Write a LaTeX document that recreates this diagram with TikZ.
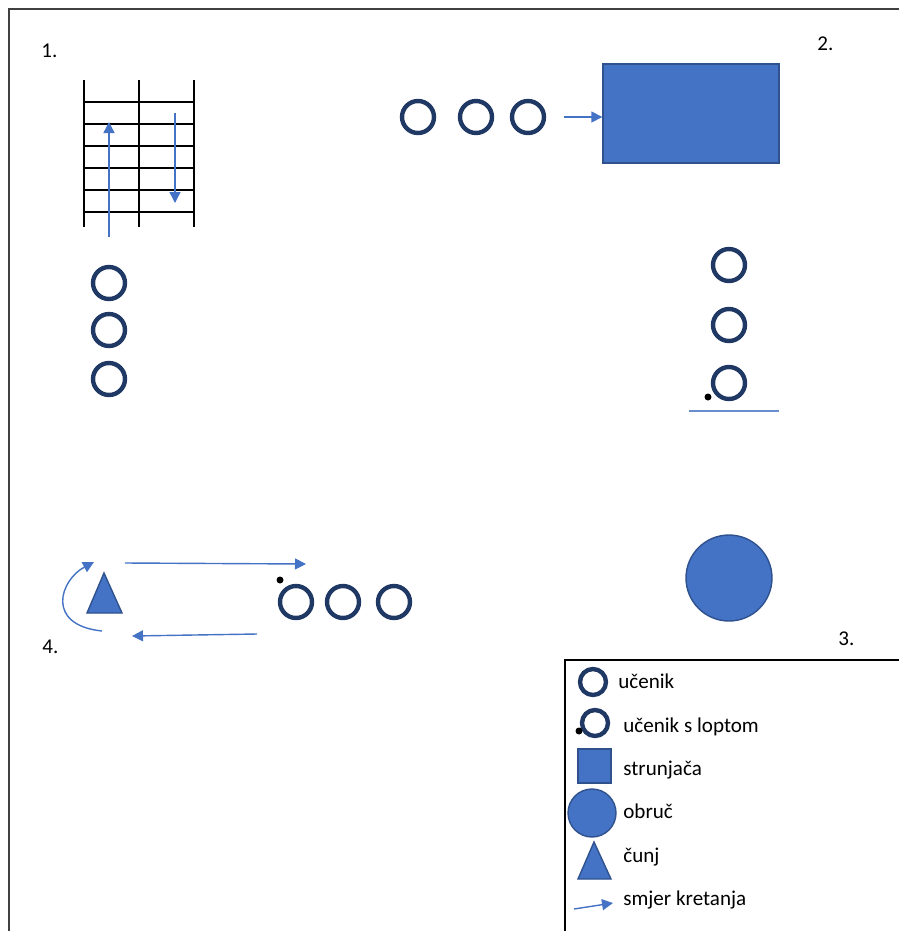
\documentclass[tikz,border=0pt]{standalone}
\usepackage{fontspec}
\setmainfont{Carlito}
\usepackage{tikz}
\usetikzlibrary{arrows.meta}

\definecolor{plava}{HTML}{4472C4}
\definecolor{rub}{HTML}{2F528F}
\definecolor{tamna}{HTML}{1F3864}
\definecolor{okvir}{HTML}{404040}

\begin{document}
\begin{tikzpicture}[
  x=0.02cm, y=-0.02cm,
  >=Stealth,
  font=\fontsize{12}{14}\selectfont,
  ucenik/.style={circle, draw=tamna, line width=2.5pt, minimum size=0.64cm, inner sep=0pt},
  maliucenik/.style={ucenik, minimum size=0.52cm},
  smjer/.style={-{Triangle[length=2.2mm, width=2.2mm]}, plava, line width=0.8pt},
  strunjaca/.style={rectangle, draw=rub, line width=0.8pt, fill=plava, inner sep=0pt},
  obruc/.style={circle, draw=rub, line width=0.8pt, fill=plava, inner sep=0pt},
  cunjstil/.style={draw=rub, line width=0.8pt, fill=plava},
  oznaka/.style={anchor=base west, inner sep=0pt}
]
\useasboundingbox (0,0) rectangle (899,931);

% ----- okvir -----
\draw[okvir, line width=0.8pt] (9,931) -- (9,9) -- (899,9);

% ----- brojevi postaja -----
\node[oznaka] (n1) at (41,57)  {1.};
\node[oznaka] (n2) at (817,50) {2.};
\node[oznaka] (n3) at (838,645) {3.};
\node[oznaka] (n4) at (42,653) {4.};

% ----- postaja 1: ljestve -----
\foreach \x in {84,139,194}
  \draw[black, line width=1.7pt] (\x,80) -- (\x,227);
\foreach \y in {102,124,...,212}
  \draw[black, line width=0.8pt] (84,\y) -- (194,\y);
\draw[smjer] (109,237) -- (109,122);
\draw[smjer] (175,113) -- (175,203);

\foreach \i/\y in {1/283, 2/330, 3/379}
  \node[ucenik] (a\i) at (109,\y) {};

% ----- postaja 2: strunjaca -----
\foreach \i/\x in {1/418, 2/476, 3/528}
  \node[ucenik] (b\i) at (\x,117) {};
\node[strunjaca, minimum width=3.52cm, minimum height=1.98cm] (mat) at (691,113.5) {};
\draw[smjer] ([xshift=0.36cm]b3.east) -- (b3 -| mat.west);

\foreach \i/\y in {1/265, 2/325, 3/383}
  \node[ucenik] (c\i) at (729,\y) {};
\fill[black] (708,397) circle (3.5);
\draw[plava!80, line width=0.8pt] (689,411) -- (779,411);

% ----- postaja 3: obruc -----
\node[obruc, minimum size=1.72cm] (hoop) at (729,578) {};

% ----- postaja 4: cunj -----
\filldraw[cunjstil] (104,573) -- (122,613) -- (87,613) -- cycle;
\draw[smjer] (102,631) .. controls (45,625) and (60,580) .. (94,562);
\draw[smjer] (125,563) -- (306,564);
\draw[smjer] (257,634) -- (132,636);

\foreach \i/\x in {1/296, 2/343, 3/394}
  \node[ucenik] (d\i) at (\x,602) {};
\fill[black] (280,580) circle (3.5);

% ----- legenda -----
\draw[black, line width=0.8pt] (565,931) -- (565,660) -- (899,660);

\node[maliucenik] (l1) at (593,682) {};
\node[oznaka] (t1) at (618,688) {učenik};

\node[maliucenik] (l2) at (595,723) {};
\fill[black] (579,731) circle (3.5);
\node[oznaka] (t2) at (623,732) {učenik s loptom};

\node[strunjaca, minimum width=0.66cm, minimum height=0.68cm] (l3) at (594.5,766) {};
\node[oznaka] (t3) at (623,775) {strunjača};

\node[obruc, minimum size=0.96cm] (l4) at (592,813) {};
\node[oznaka] (t4) at (623,818) {obruč};

\filldraw[cunjstil] (594,842) -- (611,879) -- (578,879) -- cycle;
\node[oznaka] (t5) at (623,862) {čunj};

\draw[smjer] (574,909) -- (613,903);
\node[oznaka] (t6) at (623,905) {smjer kretanja};
\end{tikzpicture}
\end{document}
